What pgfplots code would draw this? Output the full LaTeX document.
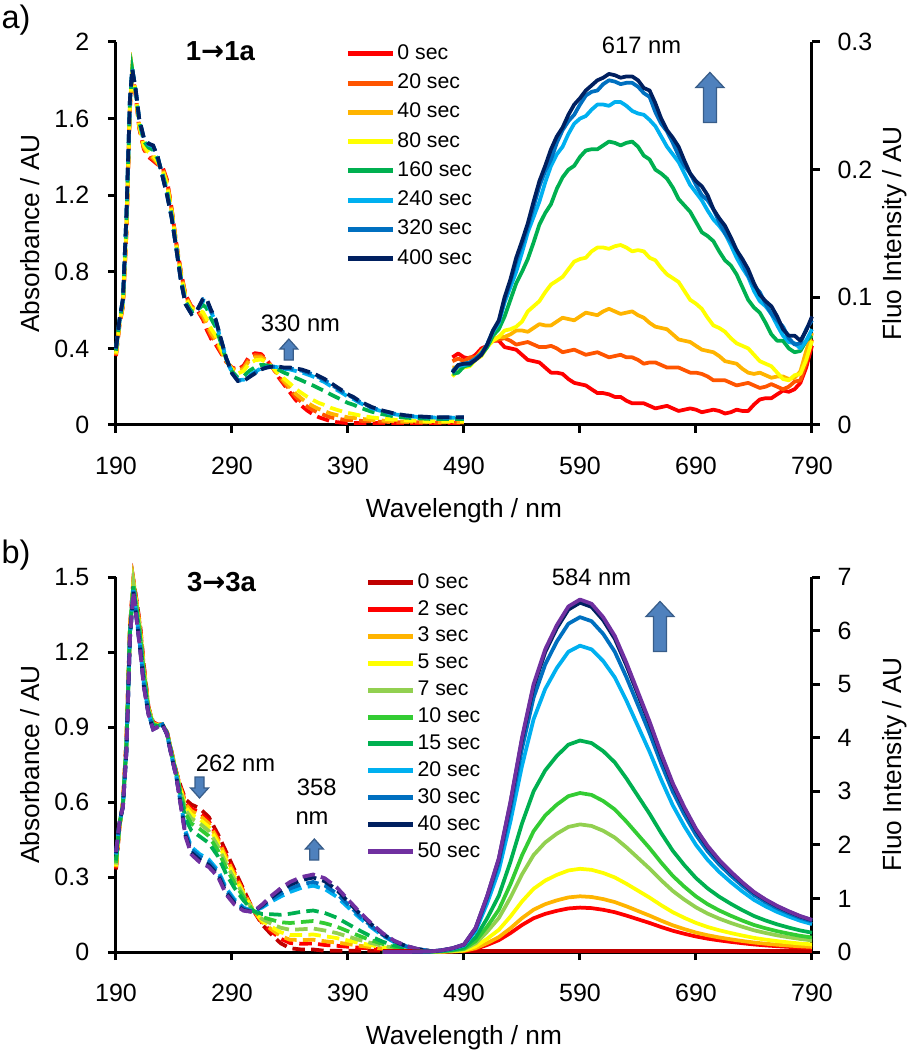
\documentclass[border=0pt]{standalone}
\usepackage{fontspec}
\setmainfont{Liberation Sans}
\newfontfamily\symfont{DejaVu Sans}
\usepackage{pgfplots}
\pgfplotsset{compat=1.18}
\usepackage{pgfplotstable}

% series colours
\definecolor{a0}{HTML}{FF0000}
\definecolor{a20}{HTML}{FF5500}
\definecolor{a40}{HTML}{FFB400}
\definecolor{a80}{HTML}{FFFF00}
\definecolor{a160}{HTML}{00B050}
\definecolor{a240}{HTML}{00B0F0}
\definecolor{a320}{HTML}{0070C0}
\definecolor{a400}{HTML}{002060}
\definecolor{b0}{HTML}{C00000}
\definecolor{b2}{HTML}{FF0000}
\definecolor{b3}{HTML}{FFB400}
\definecolor{b5}{HTML}{FFFF00}
\definecolor{b7}{HTML}{92D050}
\definecolor{b10}{HTML}{33CC33}
\definecolor{b15}{HTML}{00B050}
\definecolor{b20}{HTML}{00B0F0}
\definecolor{b30}{HTML}{0070C0}
\definecolor{b40}{HTML}{002060}
\definecolor{b50}{HTML}{7030A0}
\definecolor{arrfill}{HTML}{4F81BD}
\definecolor{arrline}{HTML}{385D8A}

\newcommand\tickfont{\fontsize{10}{12}\selectfont}
\newcommand\labfont{\fontsize{10.5}{12}\selectfont}
\newcommand\annfont{\fontsize{9.5}{11}\selectfont}
\newcommand\legfont{\fontsize{8.5}{10}\selectfont}
\newcommand\arr{{\symfont\bfseries →}}

% absorbance, panel a (1 -> 1a)
\pgfplotstableread{
wl s0 s20 s40 s80 s160 s240 s320 s400
190 .36 .364 .368 .374 .388 .397 .399 .40
193 .52 .523 .526 .531 .541 .548 .549 .55
196 .62 .624 .628 .634 .648 .657 .659 .66
199 1.0 1.01 1.02 1.035 1.07 1.092 1.097 1.10
202 1.65 1.655 1.66 1.668 1.685 1.696 1.699 1.70
204 1.85 1.851 1.852 1.854 1.857 1.859 1.860 1.86
207 1.72 1.723 1.726 1.731 1.741 1.748 1.749 1.75
210 1.55 1.555 1.56 1.568 1.585 1.596 1.599 1.60
214 1.44 1.446 1.452 1.461 1.482 1.495 1.498 1.50
218 1.40 1.407 1.414 1.425 1.449 1.464 1.468 1.47
222 1.38 1.388 1.396 1.408 1.436 1.454 1.458 1.46
226 1.36 1.364 1.368 1.374 1.388 1.397 1.399 1.40
230 1.35 1.345 1.34 1.333 1.315 1.304 1.302 1.30
234 1.28 1.272 1.264 1.252 1.224 1.206 1.202 1.20
238 1.13 1.125 1.12 1.113 1.095 1.084 1.082 1.08
242 .95 .947 .944 .940 .929 .922 .921 .92
246 .80 .795 .79 .783 .765 .754 .752 .75
250 .68 .675 .67 .663 .645 .634 .632 .63
255 .62 .616 .612 .606 .592 .583 .581 .58
260 .60 .60 .60 .60 .60 .60 .60 .60
265 .55 .561 .572 .589 .627 .651 .657 .66
268 .50 .516 .532 .556 .612 .647 .655 .66
272 .45 .465 .48 .503 .555 .588 .596 .60
276 .42 .433 .446 .466 .511 .540 .546 .55
280 .38 .388 .396 .408 .436 .454 .458 .46
285 .33 .332 .334 .337 .344 .348 .349 .35
290 .30 .297 .294 .290 .279 .272 .271 .27
295 .29 .284 .278 .269 .248 .235 .232 .23
300 .31 .302 .294 .282 .254 .236 .232 .23
305 .36 .349 .338 .322 .283 .259 .253 .25
310 .375 .365 .354 .338 .302 .278 .273 .27
315 .37 .362 .354 .342 .314 .296 .292 .29
320 .34 .336 .332 .326 .312 .303 .301 .30
325 .30 .30 .301 .302 .304 .305 .305 .305
330 .25 .256 .261 .269 .289 .301 .303 .305
335 .21 .219 .228 .242 .273 .293 .297 .30
340 .17 .183 .196 .216 .261 .290 .296 .30
345 .13 .147 .163 .188 .246 .282 .290 .295
350 .10 .119 .138 .167 .233 .275 .284 .29
355 .075 .096 .116 .147 .219 .264 .274 .28
360 .055 .077 .098 .130 .206 .253 .264 .27
365 .04 .062 .083 .115 .191 .238 .249 .255
370 .03 .051 .072 .104 .177 .223 .234 .24
375 .02 .04 .06 .09 .16 .204 .214 .22
380 .015 .034 .052 .080 .145 .185 .194 .20
385 .012 .029 .046 .071 .130 .167 .175 .18
390 .01 .025 .04 .063 .115 .148 .156 .16
395 .01 .024 .037 .057 .105 .134 .141 .145
400 .01 .022 .033 .050 .091 .116 .122 .125
410 .01 .019 .027 .040 .070 .088 .092 .095
420 .01 .017 .023 .033 .056 .070 .073 .075
430 .01 .015 .02 .028 .045 .056 .059 .06
440 .01 .014 .018 .024 .038 .047 .049 .05
450 .01 .014 .017 .022 .035 .042 .044 .045
460 .01 .013 .016 .021 .032 .039 .041 .042
470 .01 .013 .016 .021 .031 .038 .039 .04
480 .01 .013 .016 .021 .031 .038 .039 .04
490 .01 .013 .016 .021 .031 .038 .039 .04
}\absA

% fluorescence, panel a
\pgfplotstableread{
wl f0 f20 f40 f80 f160 f240 f320 f400
480 .053 .050 .045 .038 .040 .041 .042 .041
485 .056 .052 .045 .043 .041 .046 .047 .047
490 .053 .050 .048 .045 .046 .047 .048 .048
495 .052 .053 .049 .046 .047 .048 .049 .048
500 .055 .053 .052 .051 .052 .052 .052 .051
505 .060 .056 .058 .054 .055 .056 .056 .055
510 .062 .062 .062 .061 .061 .063 .063 .063
515 .066 .066 .067 .066 .070 .073 .074 .074
520 .066 .067 .069 .069 .075 .080 .081 .082
525 .061 .068 .069 .074 .085 .096 .098 .100
530 .060 .066 .071 .075 .098 .108 .112 .114
535 .059 .063 .074 .077 .111 .120 .128 .131
540 .055 .064 .074 .081 .120 .135 .141 .144
545 .051 .065 .073 .089 .130 .151 .155 .158
550 .050 .063 .076 .093 .143 .163 .171 .175
555 .049 .061 .079 .097 .157 .175 .187 .191
560 .045 .061 .078 .104 .166 .190 .199 .203
565 .041 .062 .078 .110 .173 .203 .208 .216
570 .041 .060 .081 .113 .185 .212 .221 .226
575 .040 .057 .084 .116 .194 .218 .231 .233
580 .036 .058 .083 .122 .200 .228 .238 .243
585 .033 .059 .082 .128 .203 .236 .243 .251
590 .032 .057 .085 .130 .210 .240 .251 .256
595 .031 .055 .088 .131 .215 .242 .258 .262
600 .028 .056 .087 .136 .216 .247 .261 .266
605 .025 .057 .086 .139 .216 .251 .262 .270
610 .025 .055 .089 .139 .219 .251 .267 .272
615 .024 .053 .091 .138 .222 .250 .270 .275
620 .022 .054 .089 .140 .221 .253 .269 .274
625 .022 .055 .087 .141 .219 .253 .267 .272
630 .019 .053 .088 .139 .221 .250 .268 .273
635 .017 .053 .089 .136 .222 .246 .268 .273
640 .017 .051 .086 .137 .218 .244 .265 .270
645 .017 .048 .084 .136 .211 .243 .260 .264
650 .015 .049 .080 .131 .208 .239 .257 .262
655 .013 .049 .077 .129 .200 .234 .245 .252
660 .014 .047 .076 .123 .197 .226 .236 .240
665 .015 .045 .075 .118 .193 .218 .230 .231
670 .013 .045 .071 .115 .186 .212 .221 .225
675 .011 .045 .067 .112 .177 .206 .211 .218
680 .012 .043 .066 .105 .172 .197 .203 .207
685 .013 .041 .065 .098 .167 .188 .197 .197
690 .012 .041 .062 .095 .159 .182 .188 .191
695 .010 .040 .059 .091 .151 .176 .180 .187
700 .011 .038 .058 .084 .148 .168 .176 .180
705 .012 .035 .057 .078 .144 .161 .169 .169
710 .011 .035 .054 .076 .136 .156 .159 .162
715 .009 .035 .050 .073 .129 .150 .150 .156
720 .010 .033 .049 .068 .125 .141 .144 .147
725 .012 .031 .048 .064 .118 .131 .137 .137
730 .011 .032 .044 .062 .108 .123 .127 .130
735 .011 .033 .041 .060 .098 .116 .117 .122
740 .016 .031 .040 .055 .092 .105 .109 .111
745 .020 .029 .041 .050 .088 .097 .104 .102
750 .021 .030 .039 .048 .080 .093 .095 .097
755 .021 .032 .037 .046 .071 .087 .087 .093
760 .024 .030 .038 .041 .066 .078 .082 .085
765 .027 .028 .038 .036 .066 .070 .077 .075
770 .026 .030 .036 .035 .060 .065 .068 .070
775 .028 .034 .037 .039 .057 .064 .063 .070
780 .033 .035 .042 .040 .058 .060 .064 .066
785 .045 .049 .058 .051 .066 .066 .075 .074
790 .062 .067 .072 .066 .070 .075 .082 .085
}\fluA

% absorbance, panel b (3 -> 3a)
\pgfplotstableread{
wl t0 t2 t3 t5 t7 t10 t15 t20 t30 t40 t50
190 .33 .336 .339 .344 .350 .357 .366 .390 .393 .397 .40
193 .50 .502 .503 .504 .506 .508 .510 .517 .518 .519 .52
196 .60 .598 .597 .596 .594 .592 .590 .583 .582 .581 .58
199 .85 .846 .844 .840 .836 .831 .824 .808 .805 .802 .80
202 1.30 1.296 1.294 1.290 1.286 1.281 1.274 1.258 1.255 1.252 1.25
205 1.49 1.486 1.484 1.480 1.476 1.471 1.464 1.448 1.445 1.442 1.44
208 1.40 1.394 1.390 1.384 1.378 1.370 1.358 1.332 1.328 1.323 1.32
211 1.30 1.292 1.287 1.280 1.272 1.262 1.248 1.215 1.210 1.204 1.20
214 1.15 1.143 1.138 1.132 1.125 1.116 1.103 1.074 1.069 1.064 1.06
218 .98 .978 .976 .974 .972 .969 .964 .955 .953 .951 .95
222 .92 .918 .916 .914 .912 .909 .904 .895 .893 .891 .89
226 .91 .909 .909 .908 .907 .906 .905 .902 .901 .900 .90
230 .91 .91 .91 .91 .91 .91 .91 .91 .91 .91 .91
234 .88 .879 .879 .878 .877 .876 .875 .872 .871 .870 .87
238 .80 .798 .797 .796 .794 .792 .790 .783 .782 .781 .78
242 .72 .718 .717 .716 .714 .712 .710 .703 .702 .701 .70
246 .66 .654 .650 .644 .638 .630 .618 .592 .588 .583 .58
250 .61 .598 .591 .580 .568 .553 .532 .483 .475 .466 .46
255 .59 .574 .564 .550 .534 .514 .486 .420 .410 .398 .39
262 .575 .558 .547 .532 .515 .493 .463 .392 .382 .369 .36
270 .54 .524 .514 .500 .484 .464 .436 .370 .360 .348 .34
278 .47 .456 .448 .436 .422 .405 .382 .326 .317 .307 .30
285 .40 .386 .378 .366 .352 .335 .312 .256 .247 .237 .23
292 .33 .319 .312 .302 .291 .277 .257 .211 .204 .196 .19
300 .25 .243 .239 .233 .226 .218 .206 .178 .174 .168 .165
308 .17 .169 .169 .168 .167 .166 .165 .162 .161 .160 .16
316 .11 .116 .120 .126 .132 .140 .152 .178 .182 .187 .19
324 .07 .082 .090 .101 .113 .129 .151 .202 .210 .219 .225
332 .035 .053 .064 .079 .097 .119 .149 .222 .233 .246 .255
340 .015 .036 .049 .068 .089 .116 .153 .240 .254 .269 .28
350 .01 .033 .048 .068 .091 .120 .161 .257 .271 .288 .30
360 .01 .034 .049 .070 .094 .124 .166 .265 .280 .298 .31
370 .005 .028 .043 .063 .086 .115 .156 .252 .266 .283 .295
380 .005 .025 .038 .056 .076 .102 .138 .222 .235 .250 .26
390 .005 .021 .032 .046 .062 .083 .112 .179 .190 .202 .21
400 .005 .017 .025 .036 .048 .064 .086 .137 .145 .154 .16
410 .005 .014 .019 .027 .036 .047 .062 .099 .104 .111 .115
420 .005 .011 .014 .019 .025 .032 .041 .065 .068 .072 .075
430 .005 .008 .010 .013 .016 .020 .026 .039 .041 .043 .045
440 .005 .007 .008 .009 .011 .013 .015 .022 .023 .024 .025
450 .005 .006 .006 .006 .007 .008 .009 .011 .011 .012 .012
460 .005 .005 .005 .005 .005 .005 .005 .005 .005 .005 .005
}\absB

% fluorescence, panel b
\pgfplotstableread{
wl g0 g2 g3 g5 g7 g10 g15 g20 g30 g40 g50
420 .02 0 0 0 0 0 0 0 0 0 0
440 .02 0 0 0 0 0 0 0 0 0 0
460 .02 .001 .002 .002 .004 .005 .006 .009 .01 .01 .01
470 .02 .004 .005 .007 .011 .014 .018 .026 .029 .030 .03
480 .02 .009 .011 .017 .025 .032 .042 .061 .067 .069 .07
490 .02 .018 .022 .033 .051 .063 .084 .122 .133 .139 .14
500 .02 .057 .071 .106 .163 .203 .270 .391 .428 .446 .45
510 .02 .132 .166 .248 .380 .474 .630 .912 .998 1.041 1.05
520 .02 .221 .277 .413 .634 .789 1.050 1.521 1.663 1.734 1.75
530 .02 .353 .442 .661 1.014 1.263 1.680 2.433 2.660 2.775 2.8
540 .02 .504 .632 .944 1.448 1.804 2.400 3.476 3.800 3.964 4.0
550 .02 .630 .790 1.180 1.810 2.255 3.000 4.345 4.750 4.955 5.0
560 .02 .712 .893 1.333 2.045 2.548 3.390 4.910 5.368 5.599 5.65
570 .02 .769 .964 1.440 2.208 2.751 3.660 5.301 5.795 6.045 6.1
580 .02 .813 1.019 1.522 2.335 2.909 3.870 5.605 6.128 6.392 6.45
590 .02 .829 1.040 1.553 2.382 2.968 3.948 5.718 6.251 6.521 6.58
600 .02 .819 1.027 1.534 2.353 2.932 3.900 5.649 6.175 6.442 6.5
610 .02 .788 .988 1.475 2.263 2.819 3.750 5.431 5.938 6.194 6.25
620 .02 .743 .932 1.392 2.136 2.661 3.540 5.127 5.605 5.847 5.9
630 .02 .680 .853 1.274 1.955 2.435 3.240 4.693 5.130 5.351 5.4
640 .02 .611 .766 1.145 1.756 2.187 2.910 4.215 4.608 4.806 4.85
650 .02 .542 .679 1.015 1.557 1.939 2.580 3.737 4.085 4.261 4.3
660 .02 .466 .585 .873 1.339 1.669 2.220 3.215 3.515 3.667 3.7
670 .02 .397 .498 .743 1.140 1.421 1.890 2.737 2.993 3.122 3.15
680 .02 .340 .427 .637 .977 1.218 1.620 2.346 2.565 2.676 2.7
690 .02 .290 .363 .543 .833 1.037 1.380 1.999 2.185 2.279 2.3
700 .02 .249 .313 .467 .717 .893 1.188 1.721 1.881 1.962 1.98
710 .02 .217 .272 .406 .623 .776 1.032 1.495 1.634 1.705 1.72
720 .02 .189 .237 .354 .543 .677 .900 1.304 1.425 1.487 1.5
730 .02 .164 .205 .307 .471 .586 .780 1.130 1.235 1.288 1.3
740 .02 .141 .177 .264 .405 .505 .672 .973 1.064 1.110 1.12
750 .02 .123 .155 .231 .355 .442 .588 .852 .931 .971 .98
760 .02 .108 .136 .203 .311 .388 .516 .747 .817 .852 .86
770 .02 .096 .120 .179 .275 .343 .456 .660 .722 .753 .76
780 .02 .084 .106 .158 .243 .302 .402 .582 .637 .664 .67
790 .02 .076 .095 .142 .217 .271 .360 .521 .570 .595 .6
}\fluB

% block arrows, drawn at a named coordinate
\newcommand\bigup[1]{\draw[draw=arrline, fill=arrfill, line width=0.5pt, shift={(#1)}]
    (-2.6pt,0) -- (2.6pt,0) -- (2.6pt,14pt) -- (5.6pt,14pt) -- (0,20pt)
    -- (-5.6pt,14pt) -- (-2.6pt,14pt) -- cycle;}
\newcommand\smallarr[2]{\draw[draw=arrline, fill=arrfill, line width=0.5pt, shift={(#1)}, rotate=#2]
    (-1.8pt,0) -- (1.8pt,0) -- (1.8pt,4.4pt) -- (3.6pt,4.4pt) -- (0,8.4pt)
    -- (-3.6pt,4.4pt) -- (-1.8pt,4.4pt) -- cycle;}

\pgfplotsset{
  panel/.style={
    scale only axis, width=278.4pt,
    xmin=190, xmax=790, clip=false,
    axis line style={line width=1.2pt},
    tick style={line width=1.2pt, black},
    major tick length=3.2pt,
    tick align=outside,
    tick label style={font=\tickfont},
    label style={font=\labfont},
    /pgf/number format/assume math mode=true,
    no markers,
  },
  leftpanel/.style={panel, axis x line*=bottom, axis y line*=left,
    xtick={190,290,...,790},
    xticklabel style={yshift=-6.2pt},
    yticklabel style={xshift=-4pt}},
  rightpanel/.style={panel, axis x line=none, axis y line*=right,
    yticklabel style={xshift=3.5pt}},
  abs/.style={line width=1.5pt, dash pattern=on 5pt off 2.5pt},
  flu/.style={line width=1.5pt, line join=round},
  legimg/.style={legend image code/.code={\draw[##1, line width=2pt, solid] (0pt,0pt) -- (18pt,0pt);}},
}

\begin{document}
\begin{tikzpicture}
\path[use as bounding box] (-46.4pt,-250pt) rectangle (321.6pt,170pt);

\node[font=\fontsize{13}{14}\selectfont] at (-40pt,162pt) {a)};
\node[font=\fontsize{13}{14}\selectfont] at (-40pt,-52pt) {b)};

% ---------------- panel a ----------------
\begin{axis}[leftpanel, at={(0pt,0pt)}, anchor=south west, height=153.2pt,
  ymin=0, ymax=2, ytick={0,0.4,...,2},
  xlabel={Wavelength / nm}, ylabel={Absorbance / AU},
  xlabel style={at={(axis description cs:0.5,-0.2245)}, anchor=center},
  ylabel style={at={(axis description cs:-0.124,0.5)}, anchor=center},
]
\addplot[abs, a0] table[x=wl, y=s0] {\absA};
\addplot[abs, a20] table[x=wl, y=s20] {\absA};
\addplot[abs, a40] table[x=wl, y=s40] {\absA};
\addplot[abs, a80] table[x=wl, y=s80] {\absA};
\addplot[abs, a160] table[x=wl, y=s160] {\absA};
\addplot[abs, a240] table[x=wl, y=s240] {\absA};
\addplot[abs, a320] table[x=wl, y=s320] {\absA};
\addplot[abs, a400] table[x=wl, y=s400] {\absA};
\node[font=\fontsize{11}{12}\selectfont\bfseries] at (axis cs:280,1.95) {1\arr1a};
\node[font=\annfont] at (axis cs:349,0.533) {330 nm};
\coordinate (pa1) at (axis cs:339,0.339);
\end{axis}

\begin{axis}[rightpanel, at={(0pt,0pt)}, anchor=south west, height=153.2pt,
  ymin=0, ymax=0.3, ytick={0,0.1,0.2,0.3},
  /pgf/number format/fixed,
  ylabel={Fluo Intensity / AU},
  ylabel style={at={(axis description cs:1.119,0.5)}, anchor=center},
  legimg,
  legend style={draw=none, fill=none, inner sep=0pt, font=\legfont,
    at={(axis description cs:0.329,1.0)}, anchor=north west,
    row sep=2.6pt, nodes={inner sep=0.8pt, text height=6pt, text depth=1.5pt}},
  legend cell align=left,
]
\addplot[flu, a0] table[x=wl, y=f0] {\fluA};
\addplot[flu, a20] table[x=wl, y=f20] {\fluA};
\addplot[flu, a40] table[x=wl, y=f40] {\fluA};
\addplot[flu, a80] table[x=wl, y=f80] {\fluA};
\addplot[flu, a160] table[x=wl, y=f160] {\fluA};
\addplot[flu, a240] table[x=wl, y=f240] {\fluA};
\addplot[flu, a320] table[x=wl, y=f320] {\fluA};
\addplot[flu, a400] table[x=wl, y=f400] {\fluA};
\legend{0 sec, 20 sec, 40 sec, 80 sec, 160 sec, 240 sec, 320 sec, 400 sec}
\node[font=\annfont] at (axis cs:643,0.2977) {617 nm};
\coordinate (pa2) at (axis cs:702,0.237);
\end{axis}

% ---------------- panel b ----------------
\begin{axis}[leftpanel, at={(0pt,-210.8pt)}, anchor=south west, height=150pt,
  ymin=0, ymax=1.5, ytick={0,0.3,...,1.5},
  xlabel={Wavelength / nm}, ylabel={Absorbance / AU},
  xlabel style={at={(axis description cs:0.5,-0.229)}, anchor=center},
  ylabel style={at={(axis description cs:-0.124,0.5)}, anchor=center},
]
\addplot[abs, b0] table[x=wl, y=t0] {\absB};
\addplot[abs, b2] table[x=wl, y=t2] {\absB};
\addplot[abs, b3] table[x=wl, y=t3] {\absB};
\addplot[abs, b5] table[x=wl, y=t5] {\absB};
\addplot[abs, b7] table[x=wl, y=t7] {\absB};
\addplot[abs, b10] table[x=wl, y=t10] {\absB};
\addplot[abs, b15] table[x=wl, y=t15] {\absB};
\addplot[abs, b20] table[x=wl, y=t20] {\absB};
\addplot[abs, b30] table[x=wl, y=t30] {\absB};
\addplot[abs, b40] table[x=wl, y=t40] {\absB};
\addplot[abs, b50] table[x=wl, y=t50] {\absB};
\node[font=\fontsize{11}{12}\selectfont\bfseries] at (axis cs:281,1.48) {3\arr3a};
\node[font=\annfont] at (axis cs:293,0.756) {262 nm};
\node[font=\annfont] at (axis cs:363,0.66) {358};
\node[font=\annfont] at (axis cs:359,0.536) {nm};
\coordinate (pb1) at (axis cs:262,0.70);
\coordinate (pb2) at (axis cs:361,0.368);
\end{axis}

\begin{axis}[rightpanel, at={(0pt,-210.8pt)}, anchor=south west, height=150pt,
  ymin=0, ymax=7, ytick={0,1,...,7},
  ylabel={Fluo Intensity / AU},
  ylabel style={at={(axis description cs:1.119,0.5)}, anchor=center},
  legimg,
  legend style={draw=none, fill=none, inner sep=0pt, font=\legfont,
    at={(axis description cs:0.358,1.017)}, anchor=north west,
    row sep=1.66pt, nodes={inner sep=0.8pt, text height=6pt, text depth=1.5pt}},
  legend cell align=left,
]
\addplot[flu, b0] table[x=wl, y=g0] {\fluB};
\addplot[flu, b2] table[x=wl, y=g2] {\fluB};
\addplot[flu, b3] table[x=wl, y=g3] {\fluB};
\addplot[flu, b5] table[x=wl, y=g5] {\fluB};
\addplot[flu, b7] table[x=wl, y=g7] {\fluB};
\addplot[flu, b10] table[x=wl, y=g10] {\fluB};
\addplot[flu, b15] table[x=wl, y=g15] {\fluB};
\addplot[flu, b20] table[x=wl, y=g20] {\fluB};
\addplot[flu, b30] table[x=wl, y=g30] {\fluB};
\addplot[flu, b40] table[x=wl, y=g40] {\fluB};
\addplot[flu, b50] table[x=wl, y=g50] {\fluB};
\legend{0 sec, 2 sec, 3 sec, 5 sec, 7 sec, 10 sec, 15 sec, 20 sec, 30 sec, 40 sec, 50 sec}
\node[font=\annfont] at (axis cs:600,7.0) {584 nm};
\coordinate (pb3) at (axis cs:659,5.61);
\end{axis}

\smallarr{pa1}{0}
\bigup{pa2}
\smallarr{pb1}{180}
\smallarr{pb2}{0}
\bigup{pb3}
\end{tikzpicture}
\end{document}
